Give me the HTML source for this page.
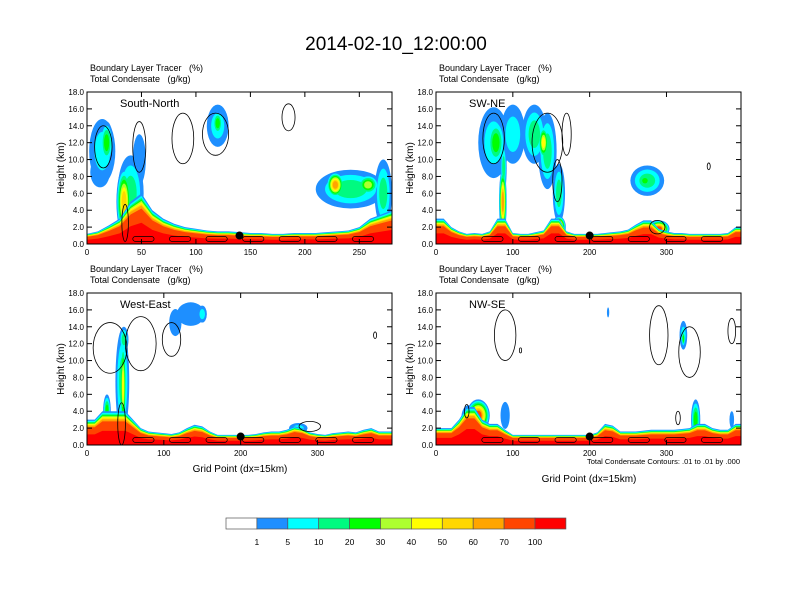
<!DOCTYPE html>
<html><head><meta charset="utf-8">
<style>
html,body{margin:0;padding:0;background:#fff;}
svg{display:block;font-family:"Liberation Sans",Arial,sans-serif;}
text{white-space:pre;}
</style></head>
<body>
<svg id="chart" width="792" height="612" viewBox="0 0 792 612" xmlns="http://www.w3.org/2000/svg">
<text x="396" y="50" font-size="19" text-anchor="middle">2014-02-10_12:00:00</text>
<g id="panels"></g>
<g id="colorbar"></g>
</svg>
<script>
// ---- data ----
const levelColors = ["#ffffff","#1e8fff","#00ffff","#00fa80","#00ff00","#adff2f","#ffff00","#ffd700","#ffa500","#ff4500","#ff0000"];
const levelLabels = ["1","5","10","20","30","40","50","60","70","100"];
const yTicks = [0,2,4,6,8,10,12,14,16,18];
const panelNames = ["South-North","SW-NE","West-East","NW-SE"];
const panelXMax = [280,397,397,397];
const panelXTicks = [[0,50,100,150,200,250],[0,100,200,300],[0,100,200,300],[0,100,200,300]];
const dotX = [140,200,200,200];
// surface layer top height (km) sampled every 10 grid points
const surfTL = [1.2,1.5,2.2,3,5,6,4,3,2.4,2,1.8,1.6,1.5,1.5,1.4,1.3,1.3,1.2,1.2,1.3,1.3,1.3,1.4,1.5,1.6,2,3,3.5,4];
const surfTR = [3,3,2,1.5,1.2,1.3,1.2,1.5,3,3,1.3,1.2,1.2,1.4,1.6,3,3,1.5,1.2,1.2,1.2,1.2,1.3,1.4,1.5,1.7,2.3,2.8,2.8,1.8,1.5,1.3,1.3,1.2,1.2,1.2,1.2,1.2,1.3,2];
const surfBL = [3,3,4,4,4,4,3,2,1.6,1.5,1.4,1.3,1.5,2,2.4,2.2,1.6,1.2,1.2,1.2,1.2,1.2,1.3,1.5,1.6,1.6,1.8,2.2,2,1.5,1.3,1.2,1.4,1.5,1.6,1.5,1.8,2,1.6,1.6];
const surfBR = [2,2,2,3,4.5,4.5,3,2.5,2.5,1.8,1.2,1.2,1.2,1.2,1.2,1.2,1.2,1.2,1.2,1.2,1.2,1.5,2.5,2.3,1.6,1.6,1.6,1.7,1.8,1.8,1.8,1.8,1.9,2,2.5,2.5,2,1.8,1.8,2.5];
const surfaces = [surfTL,surfTR,surfBL,surfBR];
// blobs: [gridX, heightKm, halfWidthGrid, halfHeightKm, peakLevel]
const blobsTL = [[14,11,12,3.8,2],[18,12,6,2.5,4],[12,8.5,9,1.8,1],[40,6,12,4.5,3],[34,5,7,4,7],[37,2.5,7,2.5,9],[48,10,6,3,1],[120,14,10,2.5,2],[120,14.3,5,1.5,4],[242,6.5,32,2.3,3],[228,7,8,1.5,8],[258,7,10,1.2,5],[272,6,8,4,3],[272,2,8,1.5,9]];
const blobsTR = [[75,12,20,4.2,2],[78,12,12,2.8,4],[100,13,16,3.5,2],[87,5,5,4,8],[88,9,4,3,3],[128,13,16,3.5,3],[145,11,12,4.5,3],[140,12,7,2,6],[160,6,8,3.5,3],[160,2,9,1.3,9],[275,7.5,22,1.8,3],[272,7.5,9,0.8,4],[290,1.8,14,1,9]];
const blobsBL = [[46,7.5,9,6.2,3],[47,7,4,5.5,6],[48,12.5,6,1.5,3],[26,4,5,2,4],[115,14.5,8,1.6,1],[135,15.5,18,1.4,1],[150,15.5,6,1,2],[275,2,12,0.6,2]];
const blobsBR = [[55,3.5,15,1.9,9],[42,3.2,9,1.5,3],[322,13,5,1.7,2],[322,12.6,2.5,1,4],[338,3,6,2.4,4],[385,3,3,1,1],[224,15.7,1.5,0.6,1],[90,3.5,6,1.6,1]];
const blobs = [blobsTL,blobsTR,blobsBL,blobsBR];
// contour outlines: [gridX, heightKm, halfWidthGrid, halfHeightKm]
const contTL = [[15,11.5,8,2.5],[48,11.5,6,3],[88,12.5,10,3],[118,13,12,2.5],[185,15,6,1.6],[35,2.5,3,2.2]];
const contTR = [[75,12.5,14,3],[145,12,20,3.5],[170,13,6,2.5],[158,7.5,6,2.5],[355,9.2,2,0.4],[288,2,10,0.8]];
const contBL = [[30,11.5,22,3],[70,12,20,3.2],[110,12.5,12,2],[290,2.2,14,0.6],[375,13,2,0.4],[45,2.5,5,2.5]];
const contBR = [[90,13,14,3],[290,13,12,3.5],[330,11,14,3],[385,13.5,5,1.5],[40,4,3,0.8],[315,3.2,3,0.8],[110,11.2,1.5,0.3]];
const contours = [contTL,contTR,contBL,contBR];

// ---- layout ----
const NS="http://www.w3.org/2000/svg";
const panelBoxes = [[87,92],[436,92],[87,293],[436,293]];
const PW=305, PH=152;
function el(tag, attrs, parent){const e=document.createElementNS(NS,tag);for(const k in attrs)e.setAttribute(k,attrs[k]);parent.appendChild(e);return e;}
const root=document.getElementById('panels');
const fracs=[1,0.95,0.91,0.88,0.85,0.82,0.79,0.76,0.7,0.42];

panelNames.forEach((name,p)=>{
  const [x0,y0]=panelBoxes[p];
  const xmax=panelXMax[p];
  const sx=v=>x0+v/xmax*PW;
  const sy=v=>y0+PH-v/18*PH;
  const g=el('g',{},root);
  
  
  const clipId='clip'+p;
  const cp=el('clipPath',{id:clipId},g);
  el('rect',{x:x0,y:y0,width:PW,height:PH},cp);
  const plot=el('g',{'clip-path':'url(#'+clipId+')'},g);
  for(let k=1;k<=10;k++){
    blobs[p].forEach(b=>{
      if(k>b[4])return;
      const f=1-(k-1)/b[4]*0.8;
      const e=el('ellipse',{cx:sx(b[0]),cy:sy(b[1]),rx:b[2]/xmax*PW*f,ry:b[3]/18*PH*f,fill:levelColors[k]},plot);
      
      
    });
  }
  const s=surfaces[p];
  for(let k=1;k<=10;k++){
    let d='M'+sx(0)+','+sy(0);
    s.forEach((h,i)=>{d+=' L'+sx(Math.min(i*10,xmax))+','+sy(h*fracs[k-1]);});
    d+=' L'+sx(xmax)+','+sy(s[s.length-1]*fracs[k-1])+' L'+sx(xmax)+','+sy(0)+'Z';
    const a=el('path',{d:d,fill:levelColors[k]},plot);
    
    
  }
  contours[p].forEach(c=>{
    const e=el('ellipse',{cx:sx(c[0]),cy:sy(c[1]),rx:c[2]/xmax*PW,ry:c[3]/18*PH,fill:'none',stroke:'#000','stroke-width':0.8},plot);
    
    
  });
  for(let gx=xmax*0.15;gx<xmax*0.95;gx+=xmax*0.12){
    const r=el('rect',{x:sx(gx),y:sy(0.9),width:PW*0.07,height:sy(0.3)-sy(0.9),rx:3,fill:'none',stroke:'#000','stroke-width':0.7},plot);
    
    
  }
  const dot=el('circle',{cx:sx(dotX[p]),cy:sy(1),r:4,fill:'#000'},g);
  
  
  el('rect',{x:x0,y:y0,width:PW,height:PH,fill:'none',stroke:'#000','stroke-width':1},g);
  yTicks.forEach(t=>{
    el('line',{x1:x0,x2:x0+5,y1:sy(t),y2:sy(t),stroke:'#000'},g);
    el('line',{x1:x0+PW,x2:x0+PW-5,y1:sy(t),y2:sy(t),stroke:'#000'},g);
    const tl=el('text',{x:x0-3,y:sy(t)+3,'font-size':8,'text-anchor':'end'},g);
    
    
    tl.textContent=t.toFixed(1);
  });
  panelXTicks[p].forEach(t=>{
    el('line',{x1:sx(t),x2:sx(t),y1:y0+PH,y2:y0+PH-5,stroke:'#000'},g);
    el('line',{x1:sx(t),x2:sx(t),y1:y0,y2:y0+5,stroke:'#000'},g);
    const tl=el('text',{x:sx(t),y:y0+PH+11,'font-size':8,'text-anchor':'middle'},g);
    
    
    tl.textContent=t;
  });
  const yl=el('text',{x:0,y:0,'font-size':10,'text-anchor':'middle',transform:'translate('+(x0-23)+','+(y0+PH/2)+') rotate(-90)'},g);
  
  
  yl.textContent='Height (km)';
  const lab=el('text',{x:x0+33,y:y0+15,'font-size':11},g);
  
  
  lab.textContent=name;
  const s1=el('text',{x:x0+3,y:y0-21,'font-size':9},g);
  
  
  s1.textContent='Boundary Layer Tracer   (%)';
  const s2=el('text',{x:x0+3,y:y0-10,'font-size':9},g);
  
  
  s2.textContent='Total Condensate   (g/kg)';
});
[[240,472],[589,482]].forEach(([x,y])=>{
  const t=el('text',{x:x,y:y,'font-size':10,'text-anchor':'middle'},root);
  
  
  t.textContent='Grid Point (dx=15km)';
});
const note=el('text',{x:740,y:464,'font-size':7.5,'text-anchor':'end'},root);


note.textContent='Total Condensate Contours: .01 to .01 by .000';
const cb=document.getElementById('colorbar');
const cbX=226,cbY=518,cbW=30.9,cbH=11;
levelColors.forEach((c,i)=>{
  const r=el('rect',{x:cbX+i*cbW,y:cbY,width:cbW,height:cbH,fill:c,stroke:'#555','stroke-width':0.7},cb);
  
  
});
levelLabels.forEach((l,i)=>{
  const t=el('text',{x:cbX+(i+1)*cbW,y:cbY+27,'font-size':8.5,'text-anchor':'middle'},cb);
  
  
  t.textContent=l;
});
</script>
</body></html>
